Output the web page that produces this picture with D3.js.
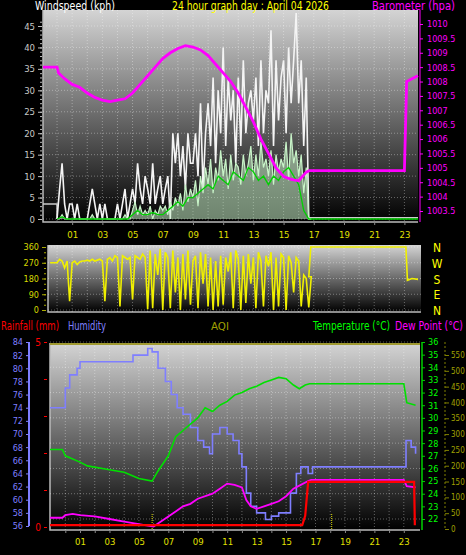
<!DOCTYPE html>
<html><head><meta charset="utf-8">
<script src="https://cdn.jsdelivr.net/npm/d3@7"></script>
<style>body{margin:0;background:#000}svg{display:block}text{font-family:"DejaVu Sans Condensed","Liberation Sans Narrow","Liberation Sans",sans-serif}</style>
</head><body><svg id="c" width="466" height="555"></svg>
<script>
// ---------- DATA ----------
const hourLabels = ["01","03","05","07","09","11","13","15","17","19","21","23"];
const hourTicks = [1,3,5,7,9,11,13,15,17,19,21,23];
// wind gust, 10-minute steps from hour 0
const gust = [0,7,13,3.5,0,3.5, 3.5,0,3.5,0,0,0, 0,3.5,7,3.5,0,3.5, 0,3.5,0,0,0,0,
 3.5,0,3.5,7,0,3.5, 7,3.5,13,7,3.5,10, 7,3.5,13,3.5,7,10, 3.5,7,10,0,20,13,
 20,10,17,7,20,13, 13,20,10,27,7,20, 27,17,33,13,30,20, 40,17,33,23,30,13,
 33,17,37,20,27,30, 23,33,17,37,20,30, 27,44,17,37,23,33, 37,20,40,27,37,48, 27,37,17,33,0,0];
const avgWind = [0,0,1,0,0,0, 0,0,0,0,0,0, 0,0,1,0,0,0, 0,0,0,0,0,0, 0,0,0,1,0,0,
 2,4,1,3,1,2, 1,3,0,2,1,3, 2,3,1,4,2,5, 3,6,2,8,4,7, 5,9,3,10,6,12, 8,14,6,12,9,16,
 10,14,7,15,9,13, 12,8,15,10,13,17, 9,15,10,18,12,14, 10,16,8,15,11,14, 12,18,9,20,13,16, 10,15,6,12,0,0];
// 20-minute steps from hour 0
const medWind = [0,0.5,0, 0,0,0, 0,0,0, 0,0,0, 0,0,0, 1,2,1, 1,1.5,1, 1,2,3, 4,3,5, 5,6,7,
 8,7,10, 9,8,11, 10,9,12, 11,9,10, 8,10,9, 11,12,10, 8,2,0];
const baroH = [-0.93,0,0.1,0.5,1,1.5,2,2.5,3,3.5,4,4.5,5,5.5,6,6.5,7,7.5,8,8.5,9,9.5,10,10.5,11,11.5,12,12.5,13,13.5,14,14.5,15,15.5,16,16.5,16.7,23,23.15,23.5,23.9];
const baroV = [1008.5,1008.5,1008.3,1008.1,1007.9,1007.8,1007.6,1007.45,1007.35,1007.3,1007.35,1007.4,1007.6,1007.9,1008.2,1008.5,1008.8,1009.0,1009.15,1009.25,1009.2,1009.1,1008.9,1008.6,1008.3,1008.0,1007.6,1007.1,1006.6,1006.0,1005.5,1005.0,1004.7,1004.6,1004.55,1004.85,1004.9,1004.9,1008.0,1008.1,1008.2];
// wind direction, 10-minute steps from hour 0
const dirV = [270,290,280,240,280,50, 270,280,260,275,280,280, 285,280,290,280,285,290, 280,50,290,300,280,310,
 300,20,310,300,290,300, 60,310,300,290,320,300, 5,340,10,320,200,350, 0,330,300,10,340,100,
 300,0,320,60,340,30, 280,310,10,330,150,320, 20,300,0,280,20,310, 30,300,220,330,10,340,
 290,0,310,40,320,150, 300,10,330,280,20,310, 250,330,0,300,20,320, 300,0,310,270,100,300, 280,20,200,180,15,190];
const dirTailH = [16.67,16.8,23.1,23.2,23.5,23.9];
const dirTailV = [190,360,360,170,180,175];
const humH = [-1.04,-0.2,0,0.3,0.8,1,4.6,5.5,5.6,5.9,6.3,6.8,7.2,7.6,8,8.5,9,9.4,9.8,10,10.5,11,11.4,11.8,12,12.3,12.6,13,13.6,14,14.5,15,15.3,15.7,16,16.5,16.8,23,23.15,23.5,23.8];
const humV = [74,74,77,79,80,81,82,82,83,82.5,80,78,76,74,73,71,69,68,67,70,71,70,69,67,65,61,59,58,57,57.5,58,58,61,64,65,64,65,65,69,68,67];
const tempH = [-1.04,-0.2,0,1,1.5,3,4,5,5.9,6.3,7,7.5,8,8.5,9,9.5,10,10.5,11,11.5,12,12.5,13,13.5,14,14.5,15,15.5,15.9,16.3,16.6,23,23.2,23.8];
const tempV = [27.5,27.5,27,26.5,26.2,25.9,25.7,25.2,25,25.8,27,28.5,29,29.5,30,30.8,30.5,31,31.3,31.8,32,32.3,32.5,32.8,33,33.2,33.1,32.6,32.3,32.6,32.7,32.7,31.2,31];
const dewH = [-1.04,-0.2,0,0.5,1,2,3,4,5,5.5,6,6.5,7,7.5,8,8.5,9,10,10.5,11,11.5,12,12.3,12.6,13,13.5,14,14.5,15,15.5,16,16.5,16.7,23,23.2,23.8];
const dewV = [22.1,22.1,22.3,22.4,22.3,22.2,22,21.8,21.6,21.5,21.4,21.8,22.2,22.6,23,23.2,23.6,24,24.4,24.8,24.7,24.5,23.5,23,22.8,23,23.2,23.4,23.8,24.4,24.7,25,25.1,25.1,24.6,24.5];
const rainH = [-1.04,16.1,16.3,16.5,23.7,23.75];
const rainV = [0.05,0.05,0.3,1.22,1.22,0.05];
const aqiV = 585;
const windTicks = [0,5,10,15,20,25,30,35,40,45];
const baroTicks = [1003.5,1004,1004.5,1005,1005.5,1006,1006.5,1007,1007.5,1008,1008.5,1009,1009.5,1010];
const dirTicks = [0,90,180,270,360];
const compass = ["N","W","S","E","N"];
const humTicks = [56,58,60,62,64,66,68,70,72,74,76,78,80,82,84];
const tempTicks = [22,23,24,25,26,27,28,29,30,31,32,33,34,35,36];
const aqiTicks = [0,50,100,150,200,250,300,350,400,450,500,550];

// ---------- DRAW ----------
const svg = d3.select("#c");
const defs = svg.append("defs");
const gr = defs.append("linearGradient").attr("id","bg").attr("x1",0).attr("y1",0).attr("x2",0).attr("y2",1);
gr.append("stop").attr("offset","0%").attr("stop-color","#d4d4d4");
gr.append("stop").attr("offset","100%").attr("stop-color","#000");

function panel(x0,y0,x1,y1){
  svg.append("rect").attr("x",x0).attr("y",y0).attr("width",x1-x0).attr("height",y1-y0).attr("fill","url(#bg)");
  svg.append("path").attr("d",`M${x0},${y0}V${y1}H${x1}`).attr("stroke","#bbb").attr("fill","none").attr("stroke-width",1.5);
}
function grid(xs, x, ys, y, x0,x1,y0,y1){
  const g=svg.append("g").attr("stroke","#fff").attr("stroke-opacity",0.35).attr("stroke-dasharray","1,2");
  xs.forEach(h=>g.append("line").attr("x1",x(h)).attr("x2",x(h)).attr("y1",y0).attr("y2",y1));
  ys.forEach(v=>g.append("line").attr("x1",x0).attr("x2",x1).attr("y1",y(v)).attr("y2",y(v)));
}
function txt(s,x,y,col,size,len,anchor){
  const t=svg.append("text").attr("x",x).attr("y",y).attr("fill",col).attr("font-size",size).text(s);
  if(anchor) t.attr("text-anchor",anchor);
  if(len) t.attr("textLength",len).attr("lengthAdjust","spacingAndGlyphs");
  return t;
}
const hours = d3.range(0,24);
const ten = (arr)=>arr.map((v,i)=>[i/6,v]);

// TOP PANEL
const xT = d3.scaleLinear().domain([-0.93,23.9]).range([43,418]);
const yW = d3.scaleLinear().domain([0,45]).range([219,26]);
const yB = d3.scaleLinear().domain([1003.5,1010]).range([211,24]);
panel(43,10,418,222);
grid(hours,xT,windTicks,yW,43,418,10,222);
const lineS = (x,y)=>d3.line().x(d=>x(d[0])).y(d=>y(d[1])).curve(d3.curveStepAfter);
const lineL = (x,y)=>d3.line().x(d=>x(d[0])).y(d=>y(d[1]));
svg.append("path").datum([[-0.93,3.5],[0,3.5],[0,0]]).attr("d",lineS(xT,yW)).attr("stroke","#ccc").attr("stroke-width",1.5).attr("fill","none");
svg.append("path").datum([[16.7,0.3],[23.9,0.3]]).attr("d",lineL(xT,yW)).attr("stroke","#ccc").attr("stroke-width",1.5).attr("fill","none");
svg.append("path").datum(ten(gust)).attr("d",d3.line().x(d=>xT(d[0])).y(d=>yW(d[1]))).attr("stroke","#f4f4f4").attr("stroke-width",1.6).attr("fill","none");
svg.append("path").datum(ten(avgWind)).attr("d",d3.area().x(d=>xT(d[0])).y0(yW(0)).y1(d=>yW(d[1]))).attr("fill","#c8f0c8").attr("fill-opacity",0.55);
svg.append("path").datum(ten(avgWind)).attr("d",d3.line().x(d=>xT(d[0])).y(d=>yW(d[1]))).attr("stroke","#c8f4c8").attr("stroke-width",1.2).attr("fill","none");
svg.append("path").datum(medWind.map((v,i)=>[i/3,v]).concat([[17,0],[23.9,0]])).attr("d",lineL(xT,yW)).attr("stroke","#00d000").attr("stroke-width",1.3).attr("fill","none");
svg.append("path").datum(baroH.map((h,i)=>[h,baroV[i]])).attr("d",lineL(xT,yB)).attr("stroke","#ff00ff").attr("stroke-width",2.8).attr("fill","none");
// axes
const aL = svg.append("g").attr("transform","translate(42,0)").call(d3.axisLeft(yW).tickValues(windTicks).tickSize(4).tickFormat(d3.format("d")));
const aLm = svg.append("g").attr("transform","translate(42,0)").call(d3.axisLeft(yW).tickValues(d3.range(0,47)).tickSize(2).tickFormat(""));
[aL,aLm].forEach(a=>{a.select(".domain").remove();a.selectAll("line").attr("stroke","#bbb");a.selectAll("text").attr("fill","#c8c8c8").attr("font-size",9.5);});
const aR = svg.append("g").attr("transform","translate(420,0)").call(d3.axisRight(yB).tickValues(baroTicks).tickSize(3).tickFormat(d=>d));
aR.select(".domain").attr("stroke","#ff00ff").attr("d","M0,10V222");
aR.selectAll("line").attr("stroke","#ff00ff");
aR.selectAll("text").attr("fill","#ff00ff").attr("font-size",9).attr("x",7);
const aX = svg.append("g").attr("transform","translate(0,222)").call(d3.axisBottom(xT).tickValues(hourTicks).tickSize(3).tickFormat((d,i)=>hourLabels[i]));
aX.select(".domain").remove(); aX.selectAll("line").attr("stroke","#888");
aX.selectAll("text").attr("fill","#e0e000").attr("font-size",9.5).attr("y",9);
txt("Windspeed (kph)",35,10,"#fff",12,80);
txt("24 hour graph day : April 04 2026",172,10,"#ffff00",12,157);
txt("Barometer (hpa)",372,10,"#ff00ff",12,83);

// MIDDLE PANEL
const yD = d3.scaleLinear().domain([0,360]).range([310,247]);
panel(48,245,421,312);
grid(hours,xT,dirTicks,yD,48,421,245,312);
const dirData = [[-0.46,270],[0,270]].concat(ten(dirV)).concat(dirTailH.map((h,i)=>[h,dirTailV[i]]));
svg.append("path").datum(dirData).attr("d",lineL(xT,yD)).attr("stroke","#f0f000").attr("stroke-width",1.6).attr("fill","none");
const aD = svg.append("g").attr("transform","translate(46,0)").call(d3.axisLeft(yD).tickValues(dirTicks).tickSize(4));
const aDm = svg.append("g").attr("transform","translate(46,0)").call(d3.axisLeft(yD).tickValues(d3.range(0,361,30)).tickSize(2).tickFormat(""));
[aD,aDm].forEach(a=>{a.select(".domain").remove();a.selectAll("line").attr("stroke","#aa0");a.selectAll("text").attr("fill","#d8d800").attr("font-size",9);});
svg.append("g").selectAll("text").data(dirTicks).join("text").attr("x",437).attr("y",d=>yD(360-d)+5).attr("text-anchor","middle")
  .attr("fill","#ffff00").attr("font-size",12).text((d,i)=>compass[i]);

// legend row
txt("Rainfall (mm)",1,330,"#ff0000",12,58);
txt("Humidity",68,330,"#8080ff",12,38);
txt("AQI",211,330,"#a0a000",10,18);
txt("Temperature (°C)",313,330,"#00ff00",12,77);
txt("Dew Point (°C)",395,330,"#ff00ff",12,68);

// BOTTOM PANEL
const xB = d3.scaleLinear().domain([-1.04,24.1]).range([50,420]);
const yH = d3.scaleLinear().domain([56,84]).range([526,342]);
const yT = d3.scaleLinear().domain([22,36]).range([519,342]);
const yR = d3.scaleLinear().domain([0,5]).range([527,342]);
const yA = d3.scaleLinear().domain([0,550]).range([529,355]);
panel(50,343,420,530);
grid(hours,xB,[22,24,26,28,30,32,34,36],yT,50,420,343,530);
svg.append("line").attr("x1",xB(-1.04)).attr("x2",xB(24.1)).attr("y1",yA(aqiV)).attr("y2",yA(aqiV)).attr("stroke","#a09a30").attr("stroke-width",2);
[5.9,18.1].forEach(h=>svg.append("line").attr("x1",xB(h)).attr("x2",xB(h)).attr("y1",yA(0)).attr("y2",yA(50)).attr("stroke","#e0e000").attr("stroke-dasharray","1,1").attr("stroke-width",1));
svg.append("path").datum(humH.map((h,i)=>[h,humV[i]])).attr("d",lineS(xB,yH)).attr("stroke","#7f7fff").attr("stroke-width",1.6).attr("fill","none");
svg.append("path").datum(tempH.map((h,i)=>[h,tempV[i]])).attr("d",lineL(xB,yT)).attr("stroke","#00e000").attr("stroke-width",1.6).attr("fill","none");
svg.append("path").datum(dewH.map((h,i)=>[h,dewV[i]])).attr("d",lineL(xB,yT)).attr("stroke","#ff00ff").attr("stroke-width",1.8).attr("fill","none");
svg.append("path").datum(rainH.map((h,i)=>[h,rainV[i]])).attr("d",lineL(xB,yR)).attr("stroke","#ff0000").attr("stroke-width",2.2).attr("fill","none");
// axes
const aH = svg.append("g").attr("transform","translate(29,0)").call(d3.axisLeft(yH).tickValues(humTicks).tickSize(3));
aH.select(".domain").attr("stroke","#7f7fff").attr("stroke-width",2).attr("d","M0,342V526");
aH.selectAll("line").attr("stroke","#7f7fff"); aH.selectAll("text").attr("fill","#7f7fff").attr("font-size",9).attr("x",-6);
const aRn = svg.append("g").attr("transform","translate(47,0)").call(d3.axisLeft(yR).tickValues([0,1,2,3,4,5]).tickSize(3).tickFormat(d=>(d===0||d===5)?d:""));
aRn.select(".domain").remove(); aRn.selectAll("line").attr("stroke","#ff0000"); aRn.selectAll("text").attr("fill","#ff0000").attr("font-size",10);
const aT = svg.append("g").attr("transform","translate(422,0)").call(d3.axisRight(yT).tickValues(tempTicks).tickSize(3));
aT.select(".domain").attr("stroke","#00d000").attr("stroke-width",1.5).attr("d","M0,342V530");
aT.selectAll("line").attr("stroke","#00d000"); aT.selectAll("text").attr("fill","#00ff00").attr("font-size",9).attr("x",6);
const aA = svg.append("g").attr("transform","translate(445,0)").call(d3.axisLeft(yA).tickValues(aqiTicks).tickSize(-4));
aA.select(".domain").attr("stroke","#808000").attr("stroke-dasharray","2,2").attr("d","M0,342V530");
aA.selectAll("line").attr("stroke","#808000"); aA.selectAll("text").attr("fill","#a0a000").attr("font-size",8).attr("text-anchor","start").attr("x",6);
const aXB = svg.append("g").attr("transform","translate(0,530)").call(d3.axisBottom(xB).tickValues(hours).tickSize(3).tickFormat(d=>{const i=hourTicks.indexOf(d);return i<0?"":hourLabels[i];}));
aXB.select(".domain").remove(); aXB.selectAll("line").attr("stroke","#888");
aXB.selectAll("text").attr("fill","#e0e000").attr("font-size",9.5).attr("y",8);
</script></body></html>
